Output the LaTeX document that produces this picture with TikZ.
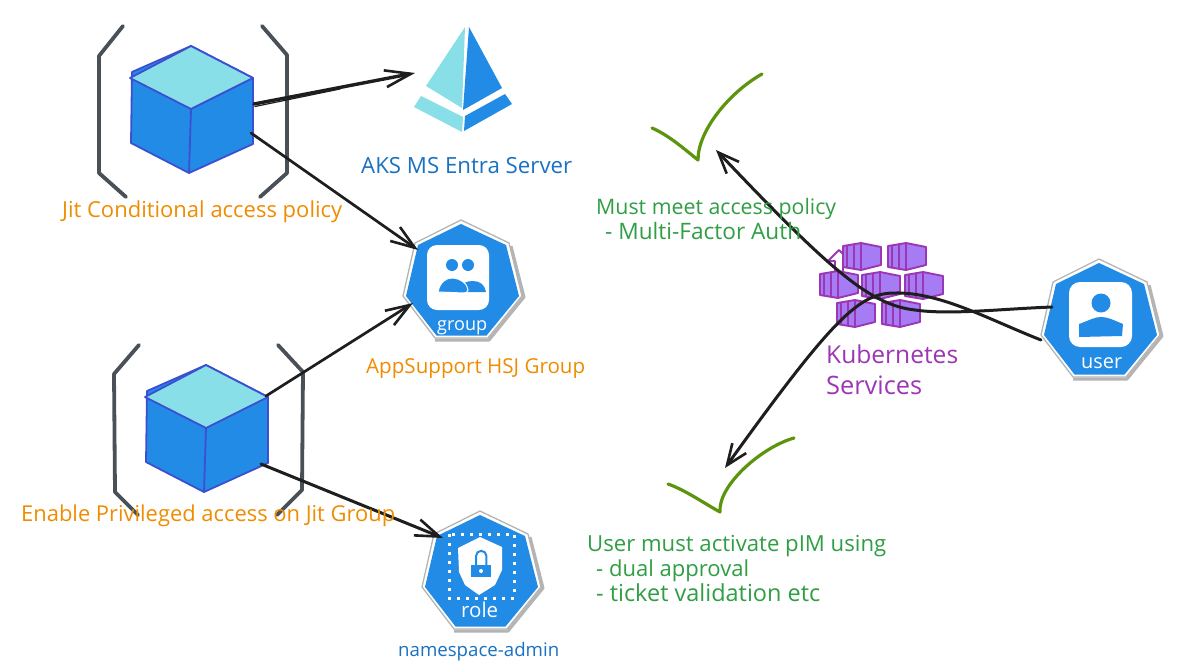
\documentclass[tikz,border=0pt]{standalone}
\usepackage{fontspec}
\usepackage{graphicx}
\setmainfont{Open Sans}
\usetikzlibrary{arrows.meta,calc}
\definecolor{azure}{HTML}{228BE6}
\definecolor{aqua}{HTML}{88DFE8}
\definecolor{edgeblue}{HTML}{3B4FD0}
\definecolor{brack}{HTML}{495057}
\definecolor{ltorange}{HTML}{F08C00}
\definecolor{ltblue}{HTML}{1971C2}
\definecolor{ltgreen}{HTML}{2F9E44}
\definecolor{tick}{HTML}{5C940D}
\definecolor{ltpurple}{HTML}{9C36B5}
\definecolor{boxfill}{HTML}{A67CF5}
\definecolor{ink}{HTML}{1E1E1E}
\definecolor{badgegray}{HTML}{B4B4B4}
\newcommand{\fit}[2]{\resizebox{#1pt}{!}{\strut #2}}
\tikzset{
  lbl/.style={inner sep=0pt,anchor=west},
  bracketline/.style={draw=brack,line width=3.8pt,line join=round,line cap=round},
  tickline/.style={draw=tick,line width=3.2pt,line cap=round,line join=round},
  linkline/.style={draw=ink,line width=2.7pt,line cap=round},
  barb/.style={-{Straight Barb[length=#1,width=17pt,line width=2.6pt]}},
  cubeedge/.style={draw=edgeblue,line width=1.8pt,line join=round},
  slat/.style={draw=ltpurple,line width=1.9pt,line join=round},
}
% heptagon badge; #1,#2 = top vertex
\newcommand{\badge}[2]{%
  \begin{scope}[shift={(#1,#2)}]
    \draw[draw=badgegray,line width=3pt,line join=round] (50,26) -- (63,77) -- (28,120) -- (-26,120);
    \draw[draw=badgegray,line width=1.3pt,line join=round,fill=white]
      (0,0) -- (48,23) -- (61,76) -- (27,118) -- (-26,118) -- (-58,76) -- (-46,23) -- cycle;
    \fill[azure] (0,4) -- (45,25) -- (58,76) -- (25.5,115.5) -- (-24.5,115.5) -- (-55,76) -- (-43,25) -- cycle;
  \end{scope}}
% isometric cube
\newcommand{\cube}[2]{%
  \begin{scope}[shift={(#1,#2)}]
    \fill[azure,cubeedge] (-59,26) -- (0,0) -- (62,32) -- (62,98) -- (-2,127) -- (-60,97) -- cycle;
    \fill[aqua,cubeedge] (0,0) -- (62,32) -- (0,63) -- (-61,32) -- cycle;
    \draw[cubeedge] (0,63) -- (-2,127);
  \end{scope}}
% shipping container
\newcommand{\crate}[2]{%
  \begin{scope}[shift={(#1,#2)}]
    \fill[boxfill] (0,3) -- (18,0) -- (38,4) -- (38,22) -- (18,27) -- (0,24) -- cycle;
    \draw[slat] (0,3) -- (18,0) -- (38,4) -- (38,22) -- (18,27) -- (0,24) -- cycle;
    \draw[slat] (18,0) -- (18,27) (4,2.5) -- (4,24.5) (11,1.5) -- (11,25.5);
  \end{scope}}
\begin{document}
\begin{tikzpicture}[x=1pt,y=-1pt]
\useasboundingbox (0,0) rectangle (1184,672);
\fill[white] (0,0) rectangle (1184,672);

% brackets
\draw[bracketline] (123,26) -- (99,56) -- (99,173) -- (126,197);
\draw[bracketline] (262,26) -- (287,55) -- (287,173) -- (260,197);
\draw[bracketline] (139,345) -- (114,374) -- (115,492) -- (138,515);
\draw[bracketline] (278,345) -- (303,372) -- (302,490) -- (277,515);

% cubes
\cube{191}{46}
\cube{206}{365}

% Entra logo
\fill[aqua] (465,27) -- (426,86) -- (462,108) -- cycle;
\fill[azure] (469,27) -- (502,88) -- (463,110) -- cycle;
\fill[aqua] (421,96) -- (463,117) -- (462,132) -- (414,107) -- cycle;
\fill[azure] (505,94) -- (512,104) -- (464,131) -- (465,116) -- cycle;

% group badge
\badge{461}{220}
\fill[white,rounded corners=10pt] (427,245) rectangle (489,310);
\fill[azure] (452,265) circle (6);
\fill[azure] (468,265) circle (6);
\fill[azure] (464,292) -- (486,292) .. controls (485,285) and (480,281) .. (473,281) .. controls (467,281) and (463,283) .. (460,287) -- cycle;
\fill[azure,draw=white,line width=1pt] (438,292) .. controls (440,282) and (446,278) .. (452,278) .. controls (460,278) and (468,284) .. (468,290) .. controls (468,292) and (466,293) .. (464,293) -- cycle;
\node[lbl,white] (grouplabel) at (437,326) {\fit{50}{group}};

% role badge
\badge{480}{511}
\draw[white,line width=3pt,dash pattern=on 3pt off 6pt] (449,534) rectangle (514,598);
\fill[white] (480,537) -- (502,547) -- (502,570) -- (495,585) -- (479,595) -- (465,585) -- (459,572) -- (458,548) -- cycle;
\fill[azure] (471,565) rectangle (491,577);
\draw[azure,line width=2pt] (476,565) -- (476,556) arc[start angle=180,end angle=360,radius=5.2] -- (486.4,565);
\fill[white] (481,571) circle (2);
\node[lbl,white] (rolelabel) at (461,613) {\fit{37}{role}};

% user badge
\badge{1099}{259}
\fill[white,rounded corners=11pt] (1069,282) rectangle (1132,347);
\fill[azure] (1101,303) circle (9.5);
\fill[azure] (1079,337) -- (1079,324) .. controls (1090,320) and (1095,317) .. (1101,317) .. controls (1108,317) and (1113,320) .. (1123,324) -- (1122,336) -- cycle;
\node[lbl,white] (userlabel) at (1081,364) {\fit{41}{user}};

% kubernetes service icon
\draw[slat,fill=white] (839,250) -- (828,261) -- (835,261) -- (835,272) -- (843,272) -- (843,261) -- (850,261) -- cycle;
\crate{843}{243}
\crate{888}{243}
\crate{820}{271}
\crate{862}{272}
\crate{905}{272}
\crate{837}{300}
\crate{882}{300}

% named ends
\coordinate (cubeAa) at (254,104);
\coordinate (cubeAb) at (251,133);
\coordinate (cubeBa) at (266,396);
\coordinate (cubeBb) at (261,464);
\coordinate (entra) at (415,73);
\coordinate (groupA) at (418,250);
\coordinate (groupB) at (413,303);
\coordinate (role) at (443,538);
\coordinate (userA) at (1052,307);
\coordinate (userB) at (1041,340);
\coordinate (tickAend) at (716,150);
\coordinate (tickBend) at (725,468);

% connectors
\draw[linkline,line width=3.4pt,barb=26pt] (cubeAa) -- (entra);
\draw[linkline,line width=1.2pt] ($(cubeAa)+(1,2.5)$) -- (340,89);
\draw[linkline,barb=24pt] (cubeAb) -- (groupA);
\draw[linkline,barb=24pt] (cubeBa) -- (groupB);
\draw[linkline,line width=3pt,barb=24pt] (cubeBb) -- (role);
\draw[linkline,line width=3pt,barb=21pt] (userA) .. controls (1000,309) and (950,315) .. (915,310) .. controls (870,305) and (830,270) .. (tickAend);
\draw[linkline,line width=3pt,barb=21pt] (userB) .. controls (990,320) and (940,292) .. (895,293) .. controls (860,293) and (835,315) .. (tickBend);

% check marks
\draw[tickline] (652,128) .. controls (668,135) and (682,147) .. (698,160) .. controls (698,130) and (730,92) .. (762,74);
\draw[tickline] (668,484) .. controls (685,490) and (702,502) .. (720,512) .. controls (718,485) and (762,447) .. (794,438);

% labels
\node[lbl,text=ltorange] (jit) at (62,212) {\fit{280}{Jit Conditional access policy}};
\node[lbl,text=ltblue] (entraname) at (361,168) {\fit{211}{AKS MS Entra Server}};
\node[lbl,text=ltorange] (hsj) at (366,369) {\fit{219}{AppSupport HSJ Group}};
\node[lbl,text=ltorange] (priv) at (21,516) {\fit{374}{Enable Privileged access on Jit Group}};
\node[lbl,text=ltblue] (ns) at (398,652) {\fit{161}{namespace-admin}};
\node[lbl,text=ltgreen] (mustA) at (596,209) {\fit{240}{Must meet access policy}};
\node[lbl,text=ltgreen] (mustB) at (605,234) {\fit{196}{- Multi-Factor Auth}};
\node[lbl,text=ltgreen] (pimA) at (587,546) {\fit{299}{User must activate pIM using}};
\node[lbl,text=ltgreen] (pimB) at (596,571) {\fit{153}{- dual approval}};
\node[lbl,text=ltgreen] (pimC) at (596,596) {\fit{224}{- ticket validation etc}};
\node[lbl,text=ltpurple] (kubeA) at (826,358) {\fit{132}{Kubernetes}};
\node[lbl,text=ltpurple] (kubeB) at (826,388) {\fit{96}{Services}};
\end{tikzpicture}
\end{document}
